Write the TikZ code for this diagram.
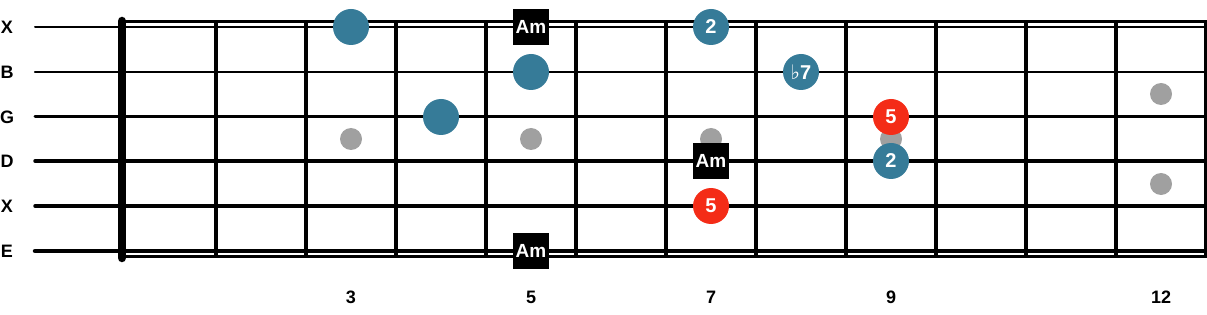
\documentclass[tikz,border=0pt]{standalone}
\usepackage{fontspec}
\setmainfont{Liberation Sans}
\newfontfamily\symfont{DejaVu Sans}
\usetikzlibrary{positioning}
\definecolor{cteal}{HTML}{367B98}
\definecolor{cred}{HTML}{F42C17}
\definecolor{cinlay}{HTML}{A0A0A0}
\tikzset{
  every picture/.style={x=1pt, y=-1pt},
  strlabel/.style={font=\fontsize{18}{18}\selectfont\bfseries},
  fretnum/.style={font=\fontsize{18}{18}\selectfont\bfseries},
  inlay/.style={circle, fill=cinlay, minimum size=22pt, inner sep=0pt},
  tone/.style={circle, fill=#1, minimum size=36pt, inner sep=0pt, text=white, font=\fontsize{20}{20}\selectfont\bfseries},
  tone/.default=cteal,
  rootbox/.style={fill=black, minimum size=36pt, inner sep=0pt, text=white, font=\fontsize{19}{19}\selectfont\bfseries},
}

\begin{document}
\begin{tikzpicture}
  \useasboundingbox (0,0) rectangle (1207,315);
  % strings and their names
  \foreach \y/\w/\s [count=\i] in {27/2/X, 72/2.5/B, 117/3/G, 161/3.5/D, 206/3.5/X, 251/4.5/E} {
    \draw[line width=\w pt, line cap=round] (35,\y) -- (1207,\y);
    \node[strlabel] (s\i) at (7,\y) {\s};
  }
  % board edges, frets and nut
  \draw[line width=2.5pt] (122,21.5) -- (1207,21.5);
  \draw[line width=2.5pt] (122,256.5) -- (1207,256.5);
  \foreach \n in {1,...,12}
    \draw[line width=3.5pt] (126+90*\n,21) -- (126+90*\n,257);
  \draw[line width=8.5pt, line cap=round] (122,21) -- (122,258);
  % inlay dots
  \foreach \x/\y [count=\i] in {351/139, 531/139, 711/139, 891/139, 1161/94, 1161/184}
    \node[inlay] (dot\i) at (\x,\y) {};
  % fret numbers
  \foreach \n in {3,5,7,9,12}
    \node[fretnum] (f\n) at (81+90*\n,297) {\n};
  % scale tones
  \node[tone] (t1) at (351,27) {};
  \node[tone] (t2) at (441,117) {};
  \node[tone] (t3) at (531,72) {};
  \node[tone] (t4) at (711,27) {2};
  \node[tone] (t5) at (801,72) {{\symfont\bfseries ♭}7};
  \node[tone] (t6) at (891,161) {2};
  \node[tone=cred] (t7) at (891,117) {5};
  \node[tone=cred] (t8) at (711,206) {5};
  % roots
  \node[rootbox] (r1) at (531,27) {Am};
  \node[rootbox] (r2) at (711,161) {Am};
  \node[rootbox] (r3) at (531,251) {Am};
\end{tikzpicture}
\end{document}
